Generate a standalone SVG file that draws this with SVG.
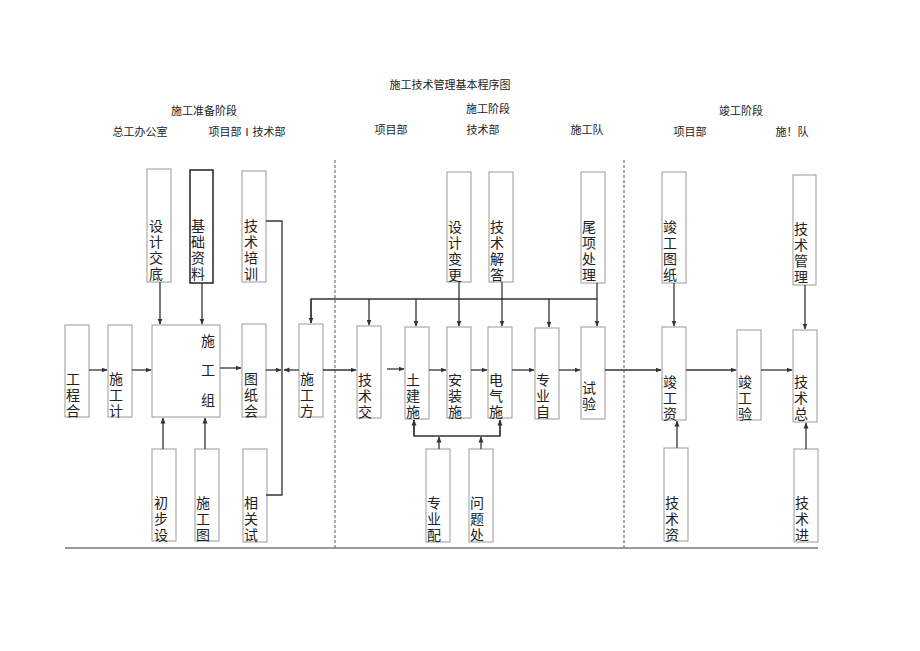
<svg xmlns="http://www.w3.org/2000/svg" width="920" height="651" viewBox="0 0 920 651">
<style>
text{font-family:"Liberation Serif","Noto Sans CJK SC",serif;fill:#222}
.h{font-size:11px}
.b{font-size:14px}
rect{fill:#fff;stroke:#999;stroke-width:1}
.k{stroke:#222;stroke-width:1.5}
.c path,.c line{stroke:#333;stroke-width:1.3;fill:none}
.d{stroke:#555;stroke-width:1;stroke-dasharray:3,2}
</style>
<defs><marker id="a" markerWidth="6" markerHeight="6" refX="5.5" refY="3" orient="auto" markerUnits="userSpaceOnUse"><path d="M0,0.5L6,3L0,5.5z" fill="#333"/></marker></defs>
<rect x="0" y="0" width="920" height="651" style="stroke:none"/>
<g id="headings" class="h">
<text x="450" y="89" text-anchor="middle">施工技术管理基本程序图</text>
<text x="204" y="115" text-anchor="middle">施工准备阶段</text>
<text x="140" y="136" text-anchor="middle">总工办公室</text>
<text x="247" y="136" text-anchor="middle">项目部Ⅰ技术部</text>
<text x="488" y="113" text-anchor="middle">施工阶段</text>
<text x="391" y="134" text-anchor="middle">项目部</text>
<text x="483" y="134" text-anchor="middle">技术部</text>
<text x="587" y="134" text-anchor="middle">施工队</text>
<text x="741" y="115" text-anchor="middle">竣工阶段</text>
<text x="690" y="136" text-anchor="middle">项目部</text>
<text x="792" y="136" text-anchor="middle">施！队</text>
</g>
<g id="frame">
<line class="d" x1="335" y1="160" x2="335" y2="548"/>
<line class="d" x1="624" y1="160" x2="624" y2="548"/>
<line x1="65" y1="548" x2="818" y2="548" stroke="#777" stroke-width="1.5"/>
</g>
<g class="b">
<g id="n1"><rect x="147" y="169" width="24" height="113"/><text x="148"><tspan x="149" y="231">设</tspan><tspan x="149" y="247">计</tspan><tspan x="149" y="263">交</tspan><tspan x="149" y="279">底</tspan></text></g>
<g id="n2"><rect class="k" x="190" y="170" width="23" height="113"/><text><tspan x="191" y="231">基</tspan><tspan x="191" y="247">础</tspan><tspan x="191" y="263">资</tspan><tspan x="191" y="279">料</tspan></text></g>
<g id="n3"><rect x="242" y="171" width="24" height="111"/><text><tspan x="244" y="231">技</tspan><tspan x="244" y="247">术</tspan><tspan x="244" y="263">培</tspan><tspan x="244" y="279">训</tspan></text></g>
<g id="n4"><rect x="65" y="325" width="24" height="92"/><text><tspan x="66" y="384">工</tspan><tspan x="66" y="400">程</tspan><tspan x="66" y="416">合</tspan></text></g>
<g id="n5"><rect x="108" y="325" width="24" height="92"/><text><tspan x="109" y="384">施</tspan><tspan x="109" y="400">工</tspan><tspan x="109" y="416">计</tspan></text></g>
<g id="n6"><rect x="152" y="325" width="68" height="92"/><text><tspan x="201" y="346">施</tspan><tspan x="201" y="375">工</tspan><tspan x="201" y="405">组</tspan></text></g>
<g id="n7"><rect x="242" y="324" width="24" height="93"/><text><tspan x="244" y="384">图</tspan><tspan x="244" y="400">纸</tspan><tspan x="244" y="416">会</tspan></text></g>
<g id="n8"><rect x="299" y="324" width="24" height="93"/><text><tspan x="300" y="384">施</tspan><tspan x="300" y="400">工</tspan><tspan x="300" y="416">方</tspan></text></g>
<g id="n9"><rect x="152" y="449" width="24" height="92"/><text><tspan x="154" y="508">初</tspan><tspan x="154" y="524">步</tspan><tspan x="154" y="540">设</tspan></text></g>
<g id="n10"><rect x="195" y="449" width="24" height="92"/><text><tspan x="196" y="508">施</tspan><tspan x="196" y="524">工</tspan><tspan x="196" y="540">图</tspan></text></g>
<g id="n11"><rect x="243" y="449" width="24" height="93"/><text><tspan x="244" y="508">相</tspan><tspan x="244" y="524">关</tspan><tspan x="244" y="540">试</tspan></text></g>
<g id="n12"><rect x="447" y="172" width="24" height="110"/><text><tspan x="448" y="232">设</tspan><tspan x="448" y="248">计</tspan><tspan x="448" y="264">变</tspan><tspan x="448" y="280">更</tspan></text></g>
<g id="n13"><rect x="489" y="172" width="24" height="110"/><text><tspan x="490" y="232">技</tspan><tspan x="490" y="248">术</tspan><tspan x="490" y="264">解</tspan><tspan x="490" y="280">答</tspan></text></g>
<g id="n14"><rect x="581" y="172" width="24" height="111"/><text><tspan x="582" y="232">尾</tspan><tspan x="582" y="248">项</tspan><tspan x="582" y="264">处</tspan><tspan x="582" y="280">理</tspan></text></g>
<g id="n15"><rect x="357" y="326" width="24" height="92"/><text><tspan x="358" y="385">技</tspan><tspan x="358" y="401">术</tspan><tspan x="358" y="417">交</tspan></text></g>
<g id="n16"><rect x="405" y="327" width="24" height="92"/><text><tspan x="406" y="385">土</tspan><tspan x="406" y="401">建</tspan><tspan x="406" y="417">施</tspan></text></g>
<g id="n17"><rect x="447" y="327" width="24" height="91"/><text><tspan x="448" y="385">安</tspan><tspan x="448" y="401">装</tspan><tspan x="448" y="417">施</tspan></text></g>
<g id="n18"><rect x="488" y="327" width="24" height="91"/><text><tspan x="489" y="385">电</tspan><tspan x="489" y="401">气</tspan><tspan x="489" y="417">施</tspan></text></g>
<g id="n19"><rect x="535" y="328" width="24" height="91"/><text><tspan x="536" y="385">专</tspan><tspan x="536" y="401">业</tspan><tspan x="536" y="417">自</tspan></text></g>
<g id="n20"><rect x="581" y="327" width="24" height="92"/><text><tspan x="582" y="393">试</tspan><tspan x="582" y="409">验</tspan></text></g>
<g id="n21"><rect x="426" y="449" width="24" height="93"/><text><tspan x="427" y="508">专</tspan><tspan x="427" y="524">业</tspan><tspan x="427" y="540">配</tspan></text></g>
<g id="n22"><rect x="469" y="449" width="24" height="93"/><text><tspan x="470" y="508">问</tspan><tspan x="470" y="524">题</tspan><tspan x="470" y="540">处</tspan></text></g>
<g id="n23"><rect x="662" y="172" width="24" height="111"/><text><tspan x="663" y="232">竣</tspan><tspan x="663" y="248">工</tspan><tspan x="663" y="264">图</tspan><tspan x="663" y="280">纸</tspan></text></g>
<g id="n24"><rect x="793" y="175" width="23" height="110"/><text><tspan x="794" y="234">技</tspan><tspan x="794" y="250">术</tspan><tspan x="794" y="266">管</tspan><tspan x="794" y="282">理</tspan></text></g>
<g id="n25"><rect x="662" y="327" width="24" height="93"/><text><tspan x="663" y="387">竣</tspan><tspan x="663" y="403">工</tspan><tspan x="663" y="419">资</tspan></text></g>
<g id="n26"><rect x="737" y="330" width="24" height="90"/><text><tspan x="738" y="387">竣</tspan><tspan x="738" y="403">工</tspan><tspan x="738" y="419">验</tspan></text></g>
<g id="n27"><rect x="793" y="330" width="24" height="92"/><text><tspan x="794" y="387">技</tspan><tspan x="794" y="403">术</tspan><tspan x="794" y="419">总</tspan></text></g>
<g id="n28"><rect x="664" y="448" width="24" height="93"/><text><tspan x="665" y="508">技</tspan><tspan x="665" y="524">术</tspan><tspan x="665" y="540">资</tspan></text></g>
<g id="n29"><rect x="794" y="449" width="24" height="93"/><text><tspan x="795" y="508">技</tspan><tspan x="795" y="524">术</tspan><tspan x="795" y="540">进</tspan></text></g>
</g>
<g id="connectors" class="c">
<line x1="160" y1="282" x2="160" y2="324" marker-end="url(#a)"/>
<line x1="202" y1="283" x2="202" y2="324" marker-end="url(#a)"/>
<line x1="163" y1="449" x2="163" y2="418" marker-end="url(#a)"/>
<line x1="205" y1="449" x2="205" y2="418" marker-end="url(#a)"/>
<line x1="89" y1="370" x2="107" y2="370" marker-end="url(#a)"/>
<line x1="132" y1="370" x2="151" y2="370" marker-end="url(#a)"/>
<line x1="220" y1="368" x2="241" y2="368" marker-end="url(#a)"/>
<line x1="266" y1="370" x2="281" y2="370" marker-end="url(#a)"/>
<line x1="299" y1="370" x2="284" y2="370" marker-end="url(#a)"/>
<path d="M266,221H282V495H266"/>
<path d="M311,323V299H597"/>
<line x1="311" y1="299" x2="311" y2="323" marker-end="url(#a)"/>
<line x1="369" y1="299" x2="369" y2="325" marker-end="url(#a)"/>
<line x1="416" y1="299" x2="416" y2="326" marker-end="url(#a)"/>
<line x1="459" y1="282" x2="459" y2="326" marker-end="url(#a)"/>
<line x1="502" y1="282" x2="502" y2="326" marker-end="url(#a)"/>
<line x1="549" y1="299" x2="549" y2="327" marker-end="url(#a)"/>
<line x1="597" y1="283" x2="597" y2="326" marker-end="url(#a)"/>
<line x1="323" y1="370" x2="356" y2="370" marker-end="url(#a)"/>
<line x1="387" y1="369" x2="404" y2="369" marker-end="url(#a)"/>
<line x1="429" y1="370" x2="446" y2="370" marker-end="url(#a)"/>
<line x1="471" y1="370" x2="487" y2="370" marker-end="url(#a)"/>
<line x1="512" y1="370" x2="534" y2="370" marker-end="url(#a)"/>
<line x1="559" y1="370" x2="580" y2="370" marker-end="url(#a)"/>
<line x1="605" y1="370" x2="661" y2="370" marker-end="url(#a)"/>
<path d="M414,420V436H500V420"/>
<line x1="414" y1="436" x2="414" y2="420" marker-end="url(#a)"/>
<line x1="500" y1="436" x2="500" y2="420" marker-end="url(#a)"/>
<line x1="439" y1="449" x2="439" y2="437" marker-end="url(#a)"/>
<line x1="481" y1="449" x2="481" y2="437" marker-end="url(#a)"/>
<line x1="674" y1="283" x2="674" y2="326" marker-end="url(#a)"/>
<line x1="805" y1="285" x2="805" y2="329" marker-end="url(#a)"/>
<line x1="686" y1="370" x2="736" y2="370" marker-end="url(#a)"/>
<line x1="761" y1="370" x2="792" y2="370" marker-end="url(#a)"/>
<line x1="677" y1="448" x2="677" y2="421" marker-end="url(#a)"/>
<line x1="806" y1="449" x2="806" y2="423" marker-end="url(#a)"/>
</g>
</svg>
